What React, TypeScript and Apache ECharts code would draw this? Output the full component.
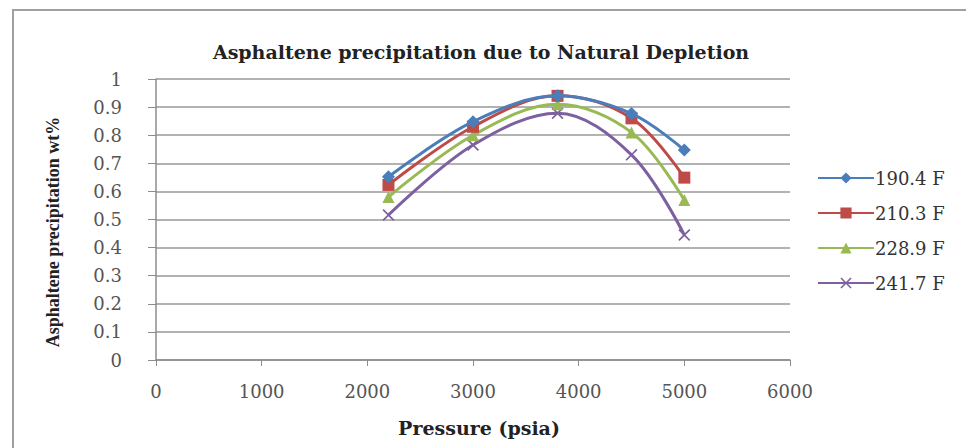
import React, { useEffect, useRef } from "react";
import * as echarts from "echarts";

const pressures = [2200, 3000, 3800, 4500, 5000];
const seriesNames = ["190.4 F", "210.3 F", "228.9 F", "241.7 F"];
const s190 = [0.652, 0.848, 0.94, 0.877, 0.747];
const s210 = [0.623, 0.83, 0.94, 0.86, 0.649];
const s228 = [0.58, 0.8, 0.91, 0.81, 0.569];
const s241 = [0.516, 0.765, 0.878, 0.73, 0.445];
const colors = ["#4A7EBB", "#BE4B48", "#98B954", "#7D60A0"];
const symbols = [
  "diamond",
  "rect",
  "triangle",
  "path://M0,1 L1,0 L5,4 L9,0 L10,1 L6,5 L10,9 L9,10 L5,6 L1,10 L0,9 L4,5 Z",
];
const yTitle = "Asphaltene precipitation wt%";

export default function App() {
  const ref = useRef<HTMLDivElement>(null);
  useEffect(() => {
    if (!ref.current) return;
    const chart = echarts.init(ref.current, null, { renderer: "svg" });
    const all = [s190, s210, s228, s241];
    chart.setOption({
      animation: false,
      backgroundColor: "#ffffff",
      title: {
        text: "Asphaltene precipitation due to Natural Depletion",
        left: 476,
        top: 37,
        textAlign: "center",
        textStyle: {
          fontFamily: "DejaVu Serif",
          fontWeight: "bold",
          fontSize: 19,
          color: "#222",
        },
      },
      graphic: [
        {
          type: "rect",
          shape: { x: 13, y: 10, width: 960, height: 446 },
          style: { fill: "none", stroke: "#a0a0a0", lineWidth: 2 },
          silent: true,
        },
        {
          type: "text",
          x: 53,
          y: 232,
          rotation: Math.PI / 2,
          style: {
            text: yTitle,
            fontFamily: "Liberation Serif",
            fontWeight: "bold",
            fontSize: 18,
            fill: "#222",
            align: "center",
            verticalAlign: "middle",
          },
          silent: true,
        },
      ],
      legend: {
        orient: "vertical",
        left: 812,
        top: 164,
        itemWidth: 56,
        itemHeight: 14,
        itemGap: 17,
        data: seriesNames,
        textStyle: {
          fontFamily: "DejaVu Serif",
          fontSize: 18,
          color: "#333",
          padding: [0, 0, 0, -4],
        },
      },
      grid: { left: 156, right: 176, top: 79, bottom: 88 },
      xAxis: {
        type: "value",
        min: 0,
        max: 6000,
        interval: 1000,
        name: "Pressure (psia)",
        nameLocation: "middle",
        nameGap: 58,
        nameTextStyle: {
          fontFamily: "DejaVu Serif",
          fontWeight: "bold",
          fontSize: 19,
          color: "#222",
          padding: [0, 0, 0, 12],
        },
        axisLine: { show: true, lineStyle: { color: "#8c8c8c", width: 1.5 } },
        axisTick: { show: true, length: 6, lineStyle: { color: "#8c8c8c" } },
        axisLabel: {
          margin: 22,
          fontFamily: "DejaVu Serif",
          fontSize: 18,
          color: "#555",
          formatter: (v: number) => String(v),
        },
        splitLine: { show: false },
      },
      yAxis: {
        type: "value",
        min: 0,
        max: 1,
        interval: 0.1,
        axisLine: { show: true, lineStyle: { color: "#8c8c8c", width: 1.5 } },
        axisTick: { show: true, length: 8, lineStyle: { color: "#8c8c8c" } },
        axisLabel: {
          margin: 34,
          fontFamily: "DejaVu Serif",
          fontSize: 18,
          color: "#555",
          formatter: (v: number) => String(Math.round(v * 10) / 10),
        },
        splitLine: { show: true, lineStyle: { color: "#999", width: 1.6 } },
      },
      series: seriesNames.map((name, i) => ({
        name,
        type: "line",
        smooth: 0.35,
        symbol: symbols[i],
        symbolSize: i === 0 ? 13 : 12,
        data: pressures.map((p, j) => [p, all[i][j]]),
        lineStyle: { color: colors[i], width: 3 },
        itemStyle: { color: colors[i] },
        z: 10 - i,
      })),
    });
    return () => chart.dispose();
  }, []);
  return (
    <div
      ref={ref}
      style={{ position: "absolute", left: 0, top: 0, width: 966, height: 448 }}
    />
  );
}
